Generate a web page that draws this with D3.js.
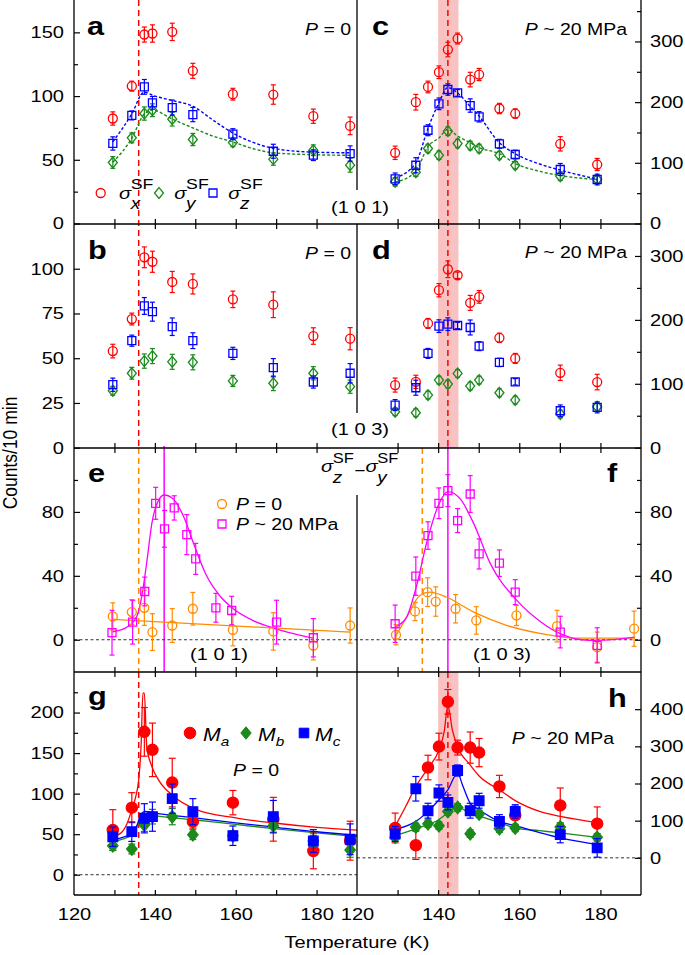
<!DOCTYPE html>
<html><head><meta charset="utf-8">
<script src="https://cdn.jsdelivr.net/npm/d3@7"></script>
<style>body{margin:0;background:#fff}svg{display:block}</style>
</head><body>
<script>
// ================= DATA =================
const T_P0  = [129.6,134.3,137.4,139.4,144.3,149.4,159.3,169.3,179.2,188.3];
const T_P20 = [129.4,134.5,137.5,140.2,142.4,144.8,147.9,150.1,155.1,159.0,170.1,179.2];

// panel a: (1 0 1), P = 0
const a_sx = [82.4,107.8,148.3,149.1,150.4,119.8,101.5,101.2,84.2,76.6];
const a_sx_err = [5.2,3.9,5.9,6.8,6.8,5.9,4.6,7.6,5.6,6.9];
const a_sy = [47.9,67.2,86.3,88.9,81.9,65.9,63.6,50.5,57.5,45.8];
const a_sy_err = [4.6,3.9,5.2,5.0,5.4,4.8,3.3,4.8,4.2,5.5];
const a_sz = [62.8,84.8,107.2,94.7,91.0,85.5,70.1,56.7,53.6,54.9];
const a_sz_err = [5.2,3.5,5.8,5.0,5.9,5.6,4.3,5.5,4.2,6.0];
const a_fit_z = [[129.6,64],[134.3,86],[137.3,103],[140,100],[144.3,96.5],[149.4,92],[154,82],[159.3,71],[164,64],[169.3,59],[179.2,56],[188.3,55.5]];
const a_fit_y = [[129.6,48],[134.3,67],[137.4,86],[139.4,89],[144.3,82],[149.4,75],[154,69],[159.3,64],[164,59],[169.3,55.5],[179.2,54],[188.3,53.5]];

// panel c: (1 0 1), P ~ 20 MPa
const c_sx = [116.5,199.9,225,249.3,286.7,304.8,237.2,245.5,189.5,181.2,131.3,97.2];
const c_sx_err = [11,12.9,9.6,10.4,12,9,12,10,8.5,7.7,11.8,10];
const c_sy = [68.7,84.5,123.6,112.5,152.1,131.8,128.5,123.6,112.5,96,77.9,72.5];
const c_sy_err = [7,7,7,7,7,7,7,7,6,6,7,6];
const c_sz = [73.6,96,153.7,197.2,220.8,215.3,194.4,175.8,131.3,113.7,89,72.5];
const c_sz_err = [9.6,12.4,9,9.6,9.3,5.5,11,8.5,7.4,7.1,9.9,8.8];
const c_fit_z = [[129.4,75],[134.5,100],[137.5,157],[140.2,199],[142.4,224],[144.8,215],[147.9,193],[150.1,177],[155.1,133],[159,115],[165,98],[170.1,88],[179.2,73]];
const c_fit_y = [[129.4,68],[134.5,86],[137.5,127],[140.2,141],[142.4,155],[144.8,144],[147.9,133],[150.1,125],[155.1,115],[159,99],[165,86],[170.1,79],[179.2,72.5]];

// panel b: (1 0 3), P = 0
const b_sx = [54.0,71.9,106.4,103.9,92.6,91.5,82.9,79.9,62.4,60.9];
const b_sx_err = [3.8,3.3,5.8,5.9,5.9,5.6,4.6,7.2,4.6,6.2];
const b_sy = [31.8,41.6,48.4,51.2,48.0,47.7,37.3,36.0,41.6,34.1];
const b_sy_err = [2.5,3.3,4.0,4.2,4.2,4.2,3.1,4.1,3.7,3.7];
const b_sz = [35.2,59.8,79.2,76.0,67.6,59.8,52.7,44.7,36.7,41.6];
const b_sz_err = [3.7,3.1,4.7,5.3,4.9,4.4,3.4,5.1,3.4,5.4];

// panel d: (1 0 3), P ~ 20 MPa
const d_sx = [98,103,194.4,246.4,279.2,269.8,226.6,236,171.9,139.7,117.2,102.7];
const d_sx_err = [11,10.4,7.8,10.4,13,5,11.7,9.9,7.3,7.8,12,12.2];
const d_sy = [56.3,54.7,82.3,105.8,99.5,116.2,96.4,105.8,86,74.5,52.7,64.1];
const d_sy_err = [6,6,6,6,6,6,6,6,6,6,6,6];
const d_sz = [66.7,93.8,147.5,190.2,193.3,191.2,188.1,158.9,133.4,103.1,57.8,63.1];
const d_sz_err = [8.6,11.7,7.8,9.9,9.9,5,11.7,7,6.5,5,9.1,8.6];

// panel e: sigma_z - sigma_y, (1 0 1)
const e_P0 = [14.6,17.3,20,4.8,8.9,19.4,6.2,5.2,-3.6,8.9];
const e_P0_err = [8.5,7.8,11,11.5,10.6,10.2,10,11.7,9,11];
const e_P20 = [4.4,11,30.2,85.4,69.4,82.5,65.8,50.6,20,18.3,11,1.25];
const e_P20_err = [14,13.7,9,10,11.5,7.6,12.5,9.7,9,8.9,13.7,12];
const e_fit_P0 = [[129.6,12.7],[188.3,4.8]];
const e_fit_P20 = [[129.6,5],[133.1,7.9],[135.6,15],[136.8,27.7],[138,48.5],[139.3,73.5],[140.5,85],[142.3,90.6],[144.6,88],[147,77.7],[149.9,58],[152.8,40],[156,27.7],[159.4,19.4],[164.3,12],[169.3,7.3],[174.3,3.8],[179.2,1]];

// panel f: sigma_z - sigma_y, (1 0 3)
const f_P0 = [3.1,17.7,29.8,23.9,19.4,12.1,15.2,8.5,-4.6,6.9];
const f_P0_err = [6.3,5.7,9,9.2,8.9,8.6,6.3,9.9,9.4,11];
const f_P20 = [10,39.8,65.2,85.4,93.3,74.6,91.2,53.7,47.9,29.8,4.8,-3.5];
const f_P20_err = [11.7,12,8.6,9.6,10,7.5,11.5,9.4,8.3,7.8,9.9,11];
const f_fit_P0 = [[129.4,1.6],[132.2,14],[135.5,27.7],[138,29.8],[142.1,26.6],[148.8,17.3],[157,8.9],[165.4,3.8],[173.6,1],[188.5,1]];
const f_fit_P20 = [[129.4,8],[132.2,14],[134.5,32],[137.2,61],[140.2,85],[142.4,92.7],[145.5,88],[148.8,72.5],[152.9,47.5],[159.4,24.6],[165.4,11],[170.1,3.8],[175.3,0],[179.2,-0.4],[188.5,1.6]];

// panel g: moments, P = 0
const g_Ma = [55.2,82.7,176.2,154,113.6,65.4,88.9,68.4,29.3,42];
const g_Ma_err = [25,18.5,30,33,30,8,15,27,22,24];
const g_Mb = [35.8,31.7,61.4,71.6,71.6,49.4,48.1,60.5,41.6,30.5];
const g_Mb_err = [6,6,8,9,10,6,6,8,7,9];
const g_Mc = [46.9,53.1,69.6,71.6,93.8,77.8,48.1,71.6,41.6,43.7];
const g_Mc_err = [12,12,18,18,18,16,12,20,14,19];
const g_fit_Ma = [[129.6,52],[130.5,49],[131.5,51],[133.1,63],[134.3,80],[135.3,97],[136,117],[136.6,160],[137.05,224],[137.4,224],[138,158],[139.3,133],[140.9,117],[144.3,98],[150,81],[160,70],[170,63.5],[180,58.5],[190,55]];
const g_fit_Mb = [[129.6,41],[132,44],[134.3,49],[135.5,58],[136.5,71],[137.5,75],[140,73],[150,67.5],[160,62],[170,56.5],[180,51.5],[190,47]];
const g_fit_Mc = [[129.6,43],[132,46],[134.3,51],[135.5,60],[136.5,74],[137.5,78],[140,76],[150,70],[160,64],[170,58.5],[180,53],[190,48.5]];

// panel h: moments, P ~ 20 MPa
const h_Ma = [80.4,33.8,243,299.3,419.9,296.6,296.6,283.2,192,114.3,141,92];
const h_Ma_err = [40,38,33,36,33,20,42,38,30,25,47,45];
const h_Mb = [55.2,83.1,92,86.6,124.9,135.7,65.1,118,78.6,80.4,83.1,55.2];
const h_Mb_err = [10,10,10,10,10,10,10,10,10,10,10,10];
const h_Mc = [64.3,185.8,126.8,174.3,149.1,234.9,126.8,153.6,98.1,124.9,62.5,26.8];
const h_Mc_err = [20,33,20,22,20,15,20,20,18,18,22,25];
const h_fit_Ma = [[129.4,85],[132,138],[134.5,192],[137.5,241],[140.2,290],[141.5,340],[142.4,411],[143.5,344],[144.8,299],[147.9,250],[150.1,220],[155.1,183],[159,154],[165,125],[170.1,111.5],[179.2,95]];
const h_fit_Mb = [[129.4,60],[135,80],[140.2,103],[142.4,121],[144.8,138],[147,125],[150.1,113],[155.1,95],[159,80],[165,73],[170.1,67],[179.2,55]];
const h_fit_Mc = [[129.4,76],[134.5,98],[137.5,125],[140.2,156],[142.4,183],[144.8,228],[146,196],[147.9,147],[150.1,129.5],[155.1,98],[159,86.6],[165,68],[170.1,53.6],[179.2,35.7]];

// transition markers (K)
const TN_P0 = 136.0;
const TN_P20 = 142.4;
const TPEAK_E = 142.3;
const TN_F_P0 = 136.1;
const BAND_P20 = [140, 145];

// tick values
const xMajor = [120,140,160,180];
const xMinor = [130,140,150,160,170,180];

// ================= DRAWING =================
const FONT = "'Liberation Sans', Arial, Helvetica, sans-serif";
const SX = 1.18;
const RED="#ff0000", GREEN="#1a8a1a", BLUE="#0000ff", ORANGE="#ff8c00", MAGENTA="#ff00ff", PINK="#f9c2c2";

const svg = d3.select("body").append("svg").attr("width",685).attr("height",955);

const xL = d3.scaleLinear().domain([120,190]).range([74,357]);
const xR = d3.scaleLinear().domain([120,190]).range([357,641]);
const yA = d3.scaleLinear().domain([0,175]).range([223.5,0.5]);
const yC = d3.scaleLinear().domain([0,367.5]).range([223.5,0.5]);
const yB = d3.scaleLinear().domain([0,125]).range([447.7,224]);
const yD = d3.scaleLinear().domain([0,350]).range([447.7,224]);
const yE = d3.scaleLinear().domain([-20,120]).range([671.7,448]);
const yG = d3.scaleLinear().domain([-25,250]).range([895,672]);
const yH = d3.scaleLinear().domain([-100,500]).range([895,672]);

const L=74, M=357, R=641;
const rows = [[0,224],[224,448],[448,672],[672,895]];

// ---- background band & vertical lines ----
const gv = svg.append("g");
[[0,448],[672,895]].forEach(([y0,y1])=>{
  gv.append("rect").attr("x",xR(BAND_P20[0])).attr("width",xR(BAND_P20[1])-xR(BAND_P20[0]))
    .attr("y",y0).attr("height",y1-y0).attr("fill",PINK);
});
function vline(x,y0,y1,color,dash,w){
  gv.append("line").attr("x1",x).attr("x2",x).attr("y1",y0).attr("y2",y1)
    .attr("stroke",color).attr("stroke-width",w||1.5).attr("stroke-dasharray",dash||null);
}
vline(xL(TN_P0),0,448,RED,"6,4");
vline(xL(TN_P0),448,672,ORANGE,"6,4");
vline(xL(TN_P0),672,895,RED,"6,4");
vline(xL(TPEAK_E),446,672,MAGENTA,null,1.5);
vline(xR(TN_P20),0,448,RED,"6,4");
vline(xR(TN_P20),672,895,RED,"6,4");
vline(xR(TN_F_P0),448,672,ORANGE,"6,4");
vline(xR(TN_P20),446,672,MAGENTA,null,1.5);

// zero lines
function hzero(x0,x1,y){
  svg.append("line").attr("x1",x0).attr("x2",x1).attr("y1",y).attr("y2",y)
    .attr("stroke","#333").attr("stroke-width",1).attr("stroke-dasharray","3,2.5");
}
hzero(L,R,yE(0));
hzero(L,M,yG(0));
hzero(M,R,yH(0));

// ---- fits ----
function fit(xs,ys,pts,color,dash){
  const line = d3.line().x(d=>xs(d[0])).y(d=>ys(d[1])).curve(d3.curveMonotoneX);
  svg.append("path").attr("d",line(pts)).attr("fill","none").attr("stroke",color)
    .attr("stroke-width",dash?1.4:1.3).attr("stroke-dasharray",dash||null);
}

// ---- series ----
function shapePath(shape,x,y,s){
  if(shape==="circle") return `M${x-s},${y}a${s},${s} 0 1,0 ${2*s},0a${s},${s} 0 1,0 ${-2*s},0Z`;
  if(shape==="square") return `M${x-s},${y-s}h${2*s}v${2*s}h${-2*s}Z`;
  return `M${x},${y-s*1.2}L${x+s},${y}L${x},${y+s*1.2}L${x-s},${y}Z`;
}
function series(xs,ys,T,vals,errs,o){
  const data = T.map((t,i)=>({t,v:vals[i],e:errs[i]}));
  const g = svg.append("g");
  const eb = g.selectAll("g").data(data).enter().append("g")
    .attr("stroke",o.color).attr("stroke-width",1.2);
  eb.append("line").attr("x1",d=>xs(d.t)).attr("x2",d=>xs(d.t))
    .attr("y1",d=>ys(d.v+d.e)).attr("y2",d=>ys(d.v-d.e));
  [1,-1].forEach(sg=>{
    eb.append("line").attr("x1",d=>xs(d.t)-o.cap).attr("x2",d=>xs(d.t)+o.cap)
      .attr("y1",d=>ys(d.v+sg*d.e)).attr("y2",d=>ys(d.v+sg*d.e));
  });
  g.selectAll("path").data(data).enter().append("path")
    .attr("d",d=>shapePath(o.shape,xs(d.t),ys(d.v),o.size))
    .attr("fill",o.filled?o.color:"none").attr("stroke",o.color).attr("stroke-width",1.3);
}
const OC={shape:"circle",size:4.5,cap:2.5}, OS={shape:"square",size:4,cap:2.5}, OD={shape:"diamond",size:4.5,cap:2.5};
const FC={shape:"circle",size:5.6,cap:3.5,filled:true}, FS={shape:"square",size:4.8,cap:3.5,filled:true}, FD={shape:"diamond",size:5.2,cap:3.5,filled:true};

// panel a
fit(xL,yA,a_fit_y,GREEN,"3,2"); fit(xL,yA,a_fit_z,BLUE,"3,2");
series(xL,yA,T_P0,a_sx,a_sx_err,{...OC,color:RED});
series(xL,yA,T_P0,a_sy,a_sy_err,{...OD,color:GREEN});
series(xL,yA,T_P0,a_sz,a_sz_err,{...OS,color:BLUE});
// panel c
fit(xR,yC,c_fit_y,GREEN,"3,2"); fit(xR,yC,c_fit_z,BLUE,"3,2");
series(xR,yC,T_P20,c_sx,c_sx_err,{...OC,color:RED});
series(xR,yC,T_P20,c_sy,c_sy_err,{...OD,color:GREEN});
series(xR,yC,T_P20,c_sz,c_sz_err,{...OS,color:BLUE});
// panel b
series(xL,yB,T_P0,b_sx,b_sx_err,{...OC,color:RED});
series(xL,yB,T_P0,b_sy,b_sy_err,{...OD,color:GREEN});
series(xL,yB,T_P0,b_sz,b_sz_err,{...OS,color:BLUE});
// panel d
series(xR,yD,T_P20,d_sx,d_sx_err,{...OC,color:RED});
series(xR,yD,T_P20,d_sy,d_sy_err,{...OD,color:GREEN});
series(xR,yD,T_P20,d_sz,d_sz_err,{...OS,color:BLUE});
// panel e
fit(xL,yE,e_fit_P0,ORANGE); fit(xL,yE,e_fit_P20,MAGENTA);
series(xL,yE,T_P0,e_P0,e_P0_err,{...OC,color:ORANGE});
series(xL,yE,T_P20,e_P20,e_P20_err,{...OS,color:MAGENTA});
// panel f
fit(xR,yE,f_fit_P0,ORANGE); fit(xR,yE,f_fit_P20,MAGENTA);
series(xR,yE,T_P0,f_P0,f_P0_err,{...OC,color:ORANGE});
series(xR,yE,T_P20,f_P20,f_P20_err,{...OS,color:MAGENTA});
// panel g
fit(xL,yG,g_fit_Mb,GREEN); fit(xL,yG,g_fit_Mc,BLUE); fit(xL,yG,g_fit_Ma,RED);
series(xL,yG,T_P0,g_Ma,g_Ma_err,{...FC,color:RED});
series(xL,yG,T_P0,g_Mb,g_Mb_err,{...FD,color:GREEN});
series(xL,yG,T_P0,g_Mc,g_Mc_err,{...FS,color:BLUE});
// panel h
fit(xR,yH,h_fit_Mb,GREEN); fit(xR,yH,h_fit_Mc,BLUE); fit(xR,yH,h_fit_Ma,RED);
series(xR,yH,T_P20,h_Ma,h_Ma_err,{...FC,color:RED});
series(xR,yH,T_P20,h_Mb,h_Mb_err,{...FD,color:GREEN});
series(xR,yH,T_P20,h_Mc,h_Mc_err,{...FS,color:BLUE});

// ---- frame ----
const fr = svg.append("g").attr("stroke","#000").attr("stroke-width",1.3);
fr.append("line").attr("x1",L).attr("x2",L).attr("y1",0).attr("y2",895);
fr.append("line").attr("x1",R).attr("x2",R).attr("y1",0).attr("y2",895);
[224,448,672,895].forEach(y=>fr.append("line").attr("x1",L).attr("x2",R).attr("y1",y).attr("y2",y));
[[0,190],[224,413],[495,672],[672,895]].forEach(([y0,y1])=>fr.append("line").attr("x1",M).attr("x2",M).attr("y1",y0).attr("y2",y1));

// ---- axes ----
function styleText(sel){
  sel.selectAll("text").attr("fill","#000").each(function(){
    const x = +(this.getAttribute("x")||0);
    d3.select(this).attr("x",0).attr("transform",`translate(${x},0) scale(${SX},1)`);
  });
}
function yAxis(ys,side,major,minor){
  const x = side==="left"?L:R;
  const mk = ()=> side==="left"? d3.axisLeft(ys): d3.axisRight(ys);
  const g = svg.append("g").attr("transform",`translate(${x},0)`)
    .call(mk().tickValues(major).tickSize(-6).tickPadding(side==="left"?10:9).tickFormat(d3.format("d")));
  g.select(".domain").remove();
  g.attr("font-family",FONT).attr("font-size",17);
  g.selectAll("line").attr("stroke","#000").attr("stroke-width",1.2);
  styleText(g);
  if(minor && minor.length){
    const g2 = svg.append("g").attr("transform",`translate(${x},0)`)
      .call(mk().tickValues(minor).tickSize(-4).tickFormat(()=>""));
    g2.select(".domain").remove();
    g2.selectAll("line").attr("stroke","#000").attr("stroke-width",1.2);
  }
}
yAxis(yA,"left",[0,50,100,150],[25,75,125]);
yAxis(yB,"left",[0,25,50,75,100],[]);
yAxis(yE,"left",[0,40,80],[20,60,100]);
yAxis(yG,"left",[0,50,100,150,200],[25,75,125,175,225]);
yAxis(yC,"right",[0,100,200,300],[50,150,250,350]);
yAxis(yD,"right",[0,100,200,300],[50,150,250]);
yAxis(yE,"right",[0,40,80],[20,60,100]);
yAxis(yH,"right",[0,100,200,300,400],[]);

function xTicks(xs,y,dir){
  const ax = dir>0? d3.axisTop(xs): d3.axisBottom(xs);
  const g = svg.append("g").attr("transform",`translate(0,${y})`)
    .call(ax.tickValues(xMinor).tickSize(-5).tickFormat(()=>""));
  g.select(".domain").remove();
  g.selectAll("line").attr("stroke","#000").attr("stroke-width",1.2);
}
rows.forEach(([y0,y1],i)=>{
  [xL,xR].forEach(xs=>{
    if(i>0) xTicks(xs,y0,1);
    xTicks(xs,y1,-1);
  });
});
[xL,xR].forEach(xs=>{
  const g = svg.append("g").attr("transform","translate(0,895)")
    .call(d3.axisBottom(xs).tickValues(xMajor).tickSize(0).tickPadding(13).tickFormat(d3.format("d")));
  g.select(".domain").remove();
  g.attr("font-family",FONT).attr("font-size",17);
  styleText(g);
});

// ---- text ----
function txt(x,y,parts,o={}){
  const t = svg.append("text").attr("transform",`translate(${x},${y}) scale(${SX},1)`)
    .attr("font-family",FONT).attr("font-size",o.size||17).attr("text-anchor",o.anchor||"start")
    .attr("fill",o.color||"#000");
  if(o.weight) t.attr("font-weight",o.weight);
  (Array.isArray(parts)?parts:[[parts]]).forEach(p=>{
    const ts = t.append("tspan").text(p[0]);
    if(p[1]) ts.attr("font-style","italic");
    if(p[2]) ts.attr("font-size",p[2]);
    if(p[3]) ts.attr("dy",p[3]);
  });
  return t;
}
// axis titles
txt(357,948,"Temperature (K)",{anchor:"middle"});
svg.append("text").attr("transform",`translate(17,453) rotate(-90) scale(1,${SX})`)
  .attr("font-family",FONT).attr("font-size",17.5).attr("text-anchor","middle").text("Counts/10 min");

// panel letters
const LB={size:26,weight:"bold"};
txt(87,35,"a",LB); txt(372,35,"c",LB);
txt(88,259,"b",LB); txt(372,259,"d",LB);
txt(88,482,"e",LB); txt(607,482,"f",LB);
txt(88,705,"g",LB); txt(608,707,"h",LB);

// pressure labels
const P0 = [["P",true],[" = 0"]];
const P20 = [["P",true],[" ~ 20 MPa"]];
txt(351,35,P0,{anchor:"end",size:16.5});
txt(351,259,P0,{anchor:"end",size:16.5});
txt(627,35,P20,{anchor:"end",size:16.5});
txt(627,258,P20,{anchor:"end",size:16.5});
txt(614,744,P20,{anchor:"end",size:16.5});
txt(233,776,P0,{size:16.5});

// reflections
txt(360,213,"(1 0 1)",{anchor:"middle"});
txt(360,435,"(1 0 3)",{anchor:"middle"});
txt(219,660,"(1 0 1)",{anchor:"middle"});
txt(502,660,"(1 0 3)",{anchor:"middle"});

// sigma symbols (σ with stacked SF superscript and subscript)
function sigmaParts(t,x0,sub,supSize,firstDy){
  t.append("tspan").attr("x",x0).attr("dy",firstDy).attr("font-style","italic").attr("font-size",17).text("σ");
  t.append("tspan").attr("x",x0+10).attr("dy",-9.5).attr("font-size",supSize).text("SF");
  t.append("tspan").attr("x",x0+10).attr("dy",20).attr("font-style","italic").attr("font-size",16).text(sub);
}
function baseText(x,y){
  return svg.append("text").attr("transform",`translate(${x},${y}) scale(${SX},1)`)
    .attr("font-family",FONT).attr("font-size",16).attr("fill","#000");
}
const legA = [[100.7,RED,"circle","x",119],[159,GREEN,"diamond","y",174.3],[213,BLUE,"square","z",228.3]];
legA.forEach(([mx,c,sh,sub,tx])=>{
  svg.append("path").attr("d",shapePath(sh,mx,193,sh==="square"?4:4.5)).attr("fill","none").attr("stroke",c).attr("stroke-width",1.3);
  sigmaParts(baseText(tx,198.5),0,sub,15,0);
});
// header e/f : σz^SF − σy^SF
{
  const t = baseText(321,472);
  sigmaParts(t,0,"z",14,0);
  t.append("tspan").attr("x",28.2).attr("dy",-6.5).text("\u2212");
  sigmaParts(t,37.7,"y",14,-4);
}

// legend e
svg.append("path").attr("d",shapePath("circle",222,504,4.5)).attr("fill","none").attr("stroke",ORANGE).attr("stroke-width",1.3);
txt(236,509.5,P0,{size:16.5});
svg.append("path").attr("d",shapePath("square",222,524,4)).attr("fill","none").attr("stroke",MAGENTA).attr("stroke-width",1.3);
txt(236,530,P20,{size:16.5});

// legend g
const legG = [[190,RED,"circle",5.8,203,"a"],[246,GREEN,"diamond",5.2,258,"b"],[304,BLUE,"square",4.8,315,"c"]];
legG.forEach(([mx,c,sh,s,tx,sub])=>{
  svg.append("path").attr("d",shapePath(sh,mx,733,s)).attr("fill",c).attr("stroke",c).attr("stroke-width",1);
  txt(tx,741,[["M",true,18],[sub,true,13,"5"]],{});
});
</script>
</body></html>
